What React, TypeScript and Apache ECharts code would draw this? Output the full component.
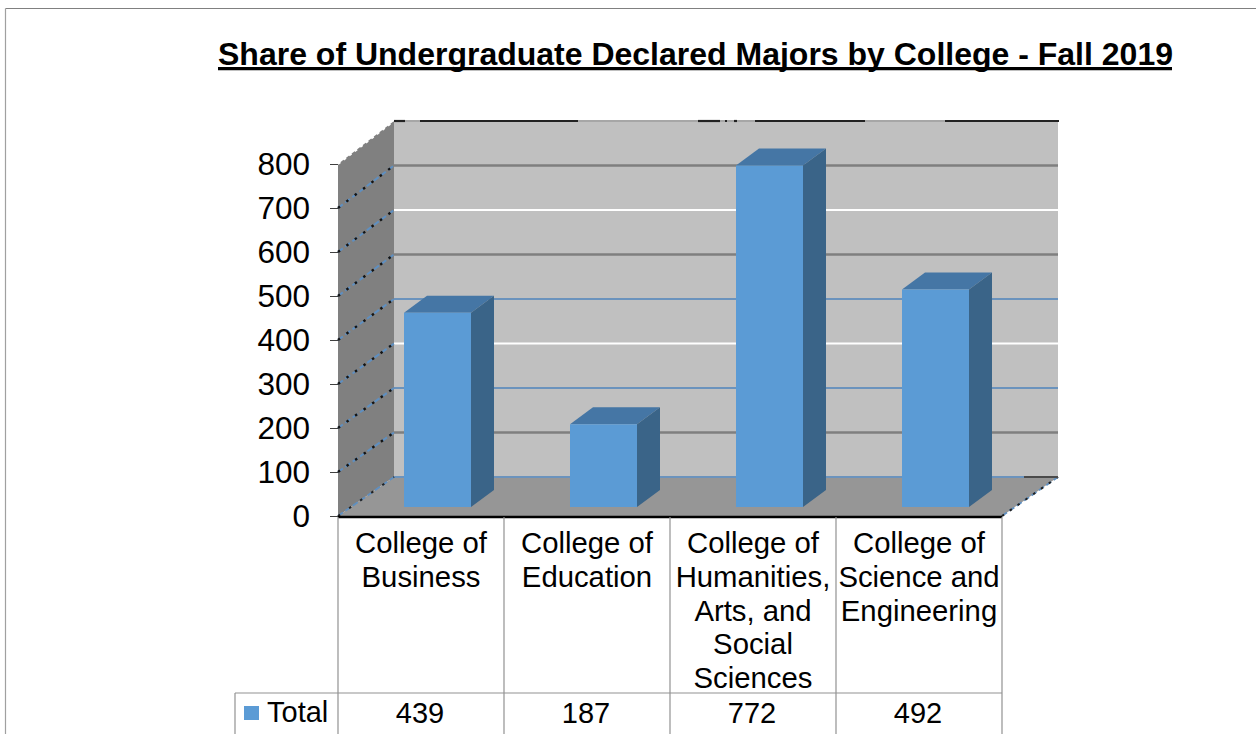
import React, { useEffect, useRef } from "react";
import * as echarts from "echarts";

const titleText = "Share of Undergraduate Declared Majors by College - Fall 2019";
const categories = [
  "College of\nBusiness",
  "College of\nEducation",
  "College of\nHumanities,\nArts, and\nSocial\nSciences",
  "College of\nScience and\nEngineering",
];
const totals = [439, 187, 772, 492];
const seriesName = "Total";
const yTicks = [0, 100, 200, 300, 400, 500, 600, 700, 800];
const wallLineColors = ["#6b93bd", "#7f7f7f", "#6b93bd", "#ffffff", "#6b93bd", "#7f7f7f", "#ffffff", "#7f7f7f", "#a6a6a6"];
const topEdgeDashes = [[0, 11], [26, 158], [304, 22], [331, 2], [340, 3], [361, 110], [551, 114]];

const FONT = '"Liberation Sans", Arial, sans-serif';
const BLUE = "#5b9bd5";
const DEPTH_X = 56;
const DEPTH_Y = 39;
const BACK_SCALE = 356 / 352;

function poly(points: number[][], fill: string) {
  return { type: "polygon", shape: { points }, style: { fill, stroke: "none" } };
}
function seg(a: number[], b: number[], stroke: string, lineWidth = 1.6, lineDash?: number[], lineDashOffset = 0) {
  return {
    type: "line",
    shape: { x1: a[0], y1: a[1], x2: b[0], y2: b[1] },
    style: { stroke, lineWidth, lineDash, lineDashOffset, fill: "none" },
  };
}

function renderWalls(params: any, api: any) {
  const cs = params.coordSys;
  const L = cs.x;
  const R = cs.x + cs.width;
  const yOf = (v: number) => api.coord([0, v])[1];
  const y0 = yOf(0);
  const backY = (v: number) => y0 - DEPTH_Y + (yOf(v) - y0) * BACK_SCALE;
  const bl = L + DEPTH_X;
  const br = R + DEPTH_X;
  const top = yTicks[yTicks.length - 1];
  const children: any[] = [
    poly([[bl, backY(top)], [br, backY(top)], [br, backY(0)], [bl, backY(0)]], "#c0c0c0"),
    poly([[L, yOf(top)], [bl, backY(top)], [bl, backY(0)], [L, y0]], "#808080"),
    poly([[L, y0], [bl, backY(0)], [br, backY(0)], [R, y0]], "#969696"),
  ];
  yTicks.forEach((v, i) => {
    const c = wallLineColors[i];
    const w = c === "#7f7f7f" ? 2.4 : 2;
    children.push(seg([bl, backY(v)], [br, backY(v)], c, w));
    if (i > 0 && i < yTicks.length - 1) {
      children.push(seg([L, yOf(v)], [bl, backY(v)], "#5f8fc0", 2, [6, 3]));
      children.push(seg([L, yOf(v)], [bl, backY(v)], "#141414", 2.4, [2.5, 8]));
    }
  });
  // jagged top edge of the side wall
  children.push(seg([L, yOf(top)], [bl, backY(top)], "#ffffff", 2, [3, 4]));
  children.push(seg([L, y0], [bl, backY(0)], "#5f8fc0", 1.8, [6, 3]));
  children.push(seg([L, y0], [bl, backY(0)], "#222222", 2, [2.5, 11]));
  children.push(seg([R, y0], [br, backY(0)], "#5f8fc0", 1.8, [6, 3]));
  children.push(seg([R, y0], [br, backY(0)], "#222222", 2, [2.5, 7]));
  children.push(seg([br - 34, backY(0)], [br, backY(0)], "#4a4a4a", 2));
  const topY = backY(top);
  topEdgeDashes.forEach(([a, w]) => children.push(seg([bl + a, topY], [bl + a + w, topY], "#222222", 2.2)));
  // front axis line
  children.push(seg([L, y0 + 1], [R, y0 + 1], "#000000", 2.6));
  // data table rules
  const bandW = cs.width / categories.length;
  const tableTop = 693;
  const tableBottom = 740;
  const tableLeft = 235;
  for (let i = 0; i <= categories.length; i++) {
    children.push(seg([L + i * bandW, y0 + 1], [L + i * bandW, tableBottom], "#929292", 1.2));
  }
  children.push(seg([tableLeft, tableTop], [R, tableTop], "#929292", 1.2));
  children.push(seg([tableLeft, tableTop], [tableLeft, tableBottom], "#929292", 1.2));
  return { type: "group", children };
}

function renderBar(params: any, api: any) {
  const v = api.value(1);
  const p = api.coord([api.value(0), v]);
  const p0 = api.coord([api.value(0), 0]);
  const halfW = 33.5;
  const cx = p[0] + 16.5;
  const base = p0[1] - 9;
  const topY = base - (p0[1] - p[1]) * 1.005;
  const sx = 23;
  const sy = 17;
  const l = cx - halfW;
  const r = cx + halfW;
  return {
    type: "group",
    children: [
      poly([[l, topY], [l + sx, topY - sy], [r + sx, topY - sy], [r, topY]], "#4576a5"),
      poly([[r, topY], [r + sx, topY - sy], [r + sx, base - sy], [r, base]], "#3a6488"),
      poly([[l, topY], [r, topY], [r, base], [l, base]], BLUE),
    ],
  };
}

function renderTableValue(params: any, api: any) {
  const p = api.coord([api.value(0), 0]);
  return {
    type: "text",
    style: {
      x: p[0] - 1,
      y: 713,
      text: String(api.value(1)),
      fill: "#000000",
      font: `29px ${FONT}`,
      align: "center",
      verticalAlign: "middle",
    },
  };
}

export default function App() {
  const ref = useRef<HTMLDivElement>(null);
  useEffect(() => {
    document.body.style.margin = "0";
    document.body.style.overflow = "hidden";
    const chart = echarts.init(ref.current!, undefined, { renderer: "svg" });
    const data = totals.map((v, i) => [i, v]);
    chart.setOption({
      animation: false,
      backgroundColor: "#ffffff",
      title: {
        text: titleText,
        left: 213,
        top: 33,
        textStyle: { fontFamily: FONT, fontSize: 32, fontWeight: "bold", color: "#000000" },
      },
      grid: { left: 338, top: 164, width: 664, height: 352, containLabel: false },
      xAxis: {
        type: "category",
        data: categories,
        axisLine: { show: false },
        axisTick: { show: false },
        axisLabel: {
          interval: 0,
          margin: 10,
          fontFamily: FONT,
          fontSize: 29.3,
          lineHeight: 33.6,
          color: "#000000",
          verticalAlign: "top",
        },
      },
      yAxis: {
        type: "value",
        min: 0,
        max: 800,
        interval: 100,
        axisLine: { show: true, lineStyle: { color: "#808080", width: 1 } },
        axisTick: { show: true, length: 8, lineStyle: { color: "#404040", width: 1 } },
        splitLine: { show: false },
        axisLabel: { margin: 28, fontFamily: FONT, fontSize: 31.5, color: "#000000" },
      },
      series: [
        { type: "custom", silent: true, data: [[0, 0]], renderItem: renderWalls, encode: { x: 0, y: 1 }, z: 1 },
        { type: "custom", name: seriesName, silent: true, data, renderItem: renderBar, encode: { x: 0, y: 1 }, z: 2 },
        { type: "custom", silent: true, data, renderItem: renderTableValue, encode: { x: 0, y: 1 }, z: 3 },
      ],
      graphic: [
        { type: "rect", shape: { x: 218, y: 67, width: 954, height: 3.2 }, style: { fill: "#000000" }, z: 10 },
        { type: "line", shape: { x1: 5.5, y1: 8.5, x2: 1256, y2: 8.5 }, style: { stroke: "#808080", lineWidth: 1 } },
        { type: "line", shape: { x1: 5.5, y1: 8.5, x2: 5.5, y2: 734 }, style: { stroke: "#a0a0a0", lineWidth: 1.2 } },
        { type: "rect", shape: { x: 244, y: 706, width: 15, height: 14 }, style: { fill: BLUE } },
        {
          type: "text",
          style: { x: 267, y: 712, text: seriesName, fill: "#000000", font: `29px ${FONT}`, verticalAlign: "middle" },
        },
      ],
    });
    return () => chart.dispose();
  }, []);
  return <div ref={ref} style={{ width: 1256, height: 734 }} />;
}
